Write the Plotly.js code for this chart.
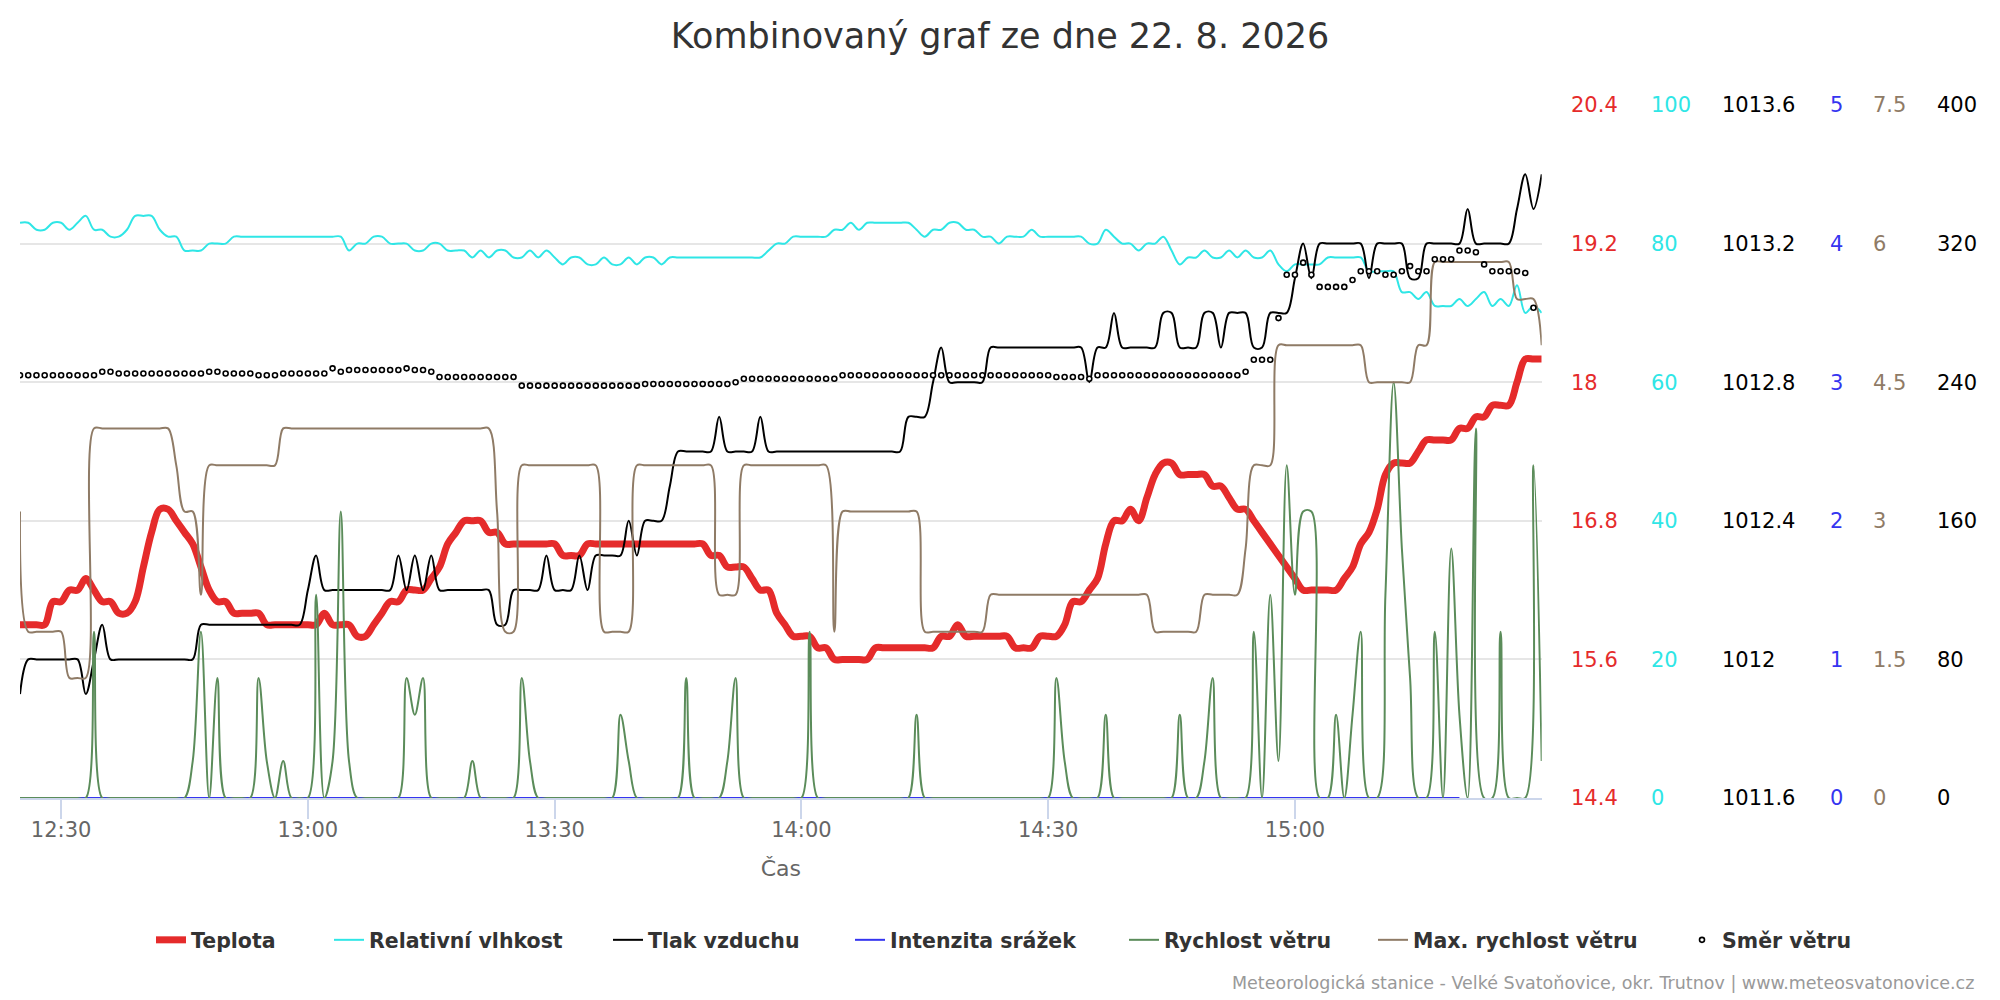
<!DOCTYPE html>
<html>
<head>
<meta charset="utf-8">
<script src="https://cdn.plot.ly/plotly-3.0.1.min.js"></script>
<style>
  html, body { margin: 0; padding: 0; background: #ffffff; }
  #chart { width: 2000px; height: 1000px; }
</style>
</head>
<body>
<div id="chart"></div>
<script>
// ---- Data (one sample per minute, starting 22. 8. 2026 12:25) ----
const dayDate = '2026-08-22';
const startTime = '12:25';

const tickLabels = ['12:30', '13:00', '13:30', '14:00', '14:30', '15:00'];

const temperature = [
  15.9,15.9,15.9,15.9,16.1,16.1,16.2,16.2,16.3,16.2,
  16.1,16.1,16.0,16.0,16.1,16.4,16.7,16.9,16.9,16.8,
  16.7,16.6,16.4,16.2,16.1,16.1,16.0,16.0,16.0,16.0,
  15.9,15.9,15.9,15.9,15.9,15.9,15.9,16.0,15.9,15.9,
  15.9,15.8,15.8,15.9,16.0,16.1,16.1,16.2,16.2,16.2,
  16.3,16.4,16.6,16.7,16.8,16.8,16.8,16.7,16.7,16.6,
  16.6,16.6,16.6,16.6,16.6,16.6,16.5,16.5,16.5,16.6,
  16.6,16.6,16.6,16.6,16.6,16.6,16.6,16.6,16.6,16.6,
  16.6,16.6,16.6,16.6,16.5,16.5,16.4,16.4,16.4,16.3,
  16.2,16.2,16.0,15.9,15.8,15.8,15.8,15.7,15.7,15.6,
  15.6,15.6,15.6,15.6,15.7,15.7,15.7,15.7,15.7,15.7,
  15.7,15.7,15.8,15.8,15.9,15.8,15.8,15.8,15.8,15.8,
  15.8,15.7,15.7,15.7,15.8,15.8,15.8,15.9,16.1,16.1,
  16.2,16.3,16.6,16.8,16.8,16.9,16.8,17.0,17.2,17.3,
  17.3,17.2,17.2,17.2,17.2,17.1,17.1,17.0,16.9,16.9,
  16.8,16.7,16.6,16.5,16.4,16.3,16.2,16.2,16.2,16.2,
  16.2,16.3,16.4,16.6,16.7,16.9,17.2,17.3,17.3,17.3,
  17.4,17.5,17.5,17.5,17.5,17.6,17.6,17.7,17.7,17.8,
  17.8,17.8,18.0,18.2,18.2,18.2
];

const humidity = [
  83,83,82,82,83,83,82,83,84,82,
  82,81,81,82,84,84,84,82,81,81,
  79,79,79,80,80,80,81,81,81,81,
  81,81,81,81,81,81,81,81,81,81,
  79,80,80,81,81,80,80,80,79,79,
  80,80,79,79,79,78,79,78,79,79,
  78,78,79,78,79,78,77,78,78,77,
  77,78,77,77,78,77,78,78,77,78,
  78,78,78,78,78,78,78,78,78,78,
  78,79,80,80,81,81,81,81,81,82,
  82,83,82,83,83,83,83,83,83,82,
  81,82,82,83,83,82,82,81,81,80,
  81,81,81,82,81,81,81,81,81,81,
  80,80,82,81,80,80,79,80,80,81,
  79,77,78,78,79,78,78,79,78,79,
  78,78,79,77,76,77,77,77,77,78,
  78,78,78,78,76,76,76,76,73,73,
  72,73,71,71,71,72,71,72,73,71,
  72,71,74,70,71,70
];

const pressure = [
  1011.9,1012.0,1012.0,1012.0,1012.0,1012.0,1012.0,1012.0,1011.9,1012.0,
  1012.1,1012.0,1012.0,1012.0,1012.0,1012.0,1012.0,1012.0,1012.0,1012.0,
  1012.0,1012.0,1012.1,1012.1,1012.1,1012.1,1012.1,1012.1,1012.1,1012.1,
  1012.1,1012.1,1012.1,1012.1,1012.1,1012.2,1012.3,1012.2,1012.2,1012.2,
  1012.2,1012.2,1012.2,1012.2,1012.2,1012.2,1012.3,1012.2,1012.3,1012.2,
  1012.3,1012.2,1012.2,1012.2,1012.2,1012.2,1012.2,1012.2,1012.1,1012.1,
  1012.2,1012.2,1012.2,1012.2,1012.3,1012.2,1012.2,1012.2,1012.3,1012.2,
  1012.3,1012.3,1012.3,1012.3,1012.4,1012.3,1012.4,1012.4,1012.4,1012.5,
  1012.6,1012.6,1012.6,1012.6,1012.6,1012.7,1012.6,1012.6,1012.6,1012.6,
  1012.7,1012.6,1012.6,1012.6,1012.6,1012.6,1012.6,1012.6,1012.6,1012.6,
  1012.6,1012.6,1012.6,1012.6,1012.6,1012.6,1012.6,1012.6,1012.7,1012.7,
  1012.7,1012.8,1012.9,1012.8,1012.8,1012.8,1012.8,1012.8,1012.9,1012.9,
  1012.9,1012.9,1012.9,1012.9,1012.9,1012.9,1012.9,1012.9,1012.9,1012.9,
  1012.8,1012.9,1012.9,1013.0,1012.9,1012.9,1012.9,1012.9,1012.9,1013.0,
  1013.0,1012.9,1012.9,1012.9,1013.0,1013.0,1012.9,1013.0,1013.0,1013.0,
  1012.9,1012.9,1013.0,1013.0,1013.0,1013.1,1013.2,1013.1,1013.2,1013.2,
  1013.2,1013.2,1013.2,1013.2,1013.1,1013.2,1013.2,1013.2,1013.2,1013.1,
  1013.1,1013.2,1013.2,1013.2,1013.2,1013.2,1013.3,1013.2,1013.2,1013.2,
  1013.2,1013.2,1013.3,1013.4,1013.3,1013.4
];

const rainIntensity = [
  0,0,0,0,0,0,0,0,0,0, 0,0,0,0,0,0,0,0,0,0,
  0,0,0,0,0,0,0,0,0,0, 0,0,0,0,0,0,0,0,0,0,
  0,0,0,0,0,0,0,0,0,0, 0,0,0,0,0,0,0,0,0,0,
  0,0,0,0,0,0,0,0,0,0, 0,0,0,0,0,0,0,0,0,0,
  0,0,0,0,0,0,0,0,0,0, 0,0,0,0,0,0,0,0,0,0,
  0,0,0,0,0,0,0,0,0,0, 0,0,0,0,0,0,0,0,0,0,
  0,0,0,0,0,0,0,0,0,0, 0,0,0,0,0,0,0,0,0,0,
  0,0,0,0,0,0,0,0,0,0, 0,0,0,0,0,0,0,0,0,0,
  0,0,0,0,0,0,0,0,0,0, 0,0,0,0,0,0
];

const windSpeed = [
  0,0,0,0,0,0,0,0,0,1.8,
  0,0,0,0,0,0,0,0,0,0,
  0,0.4,1.8,0,1.3,0,0,0,0,1.3,
  0.4,0,0.4,0,0,0,2.2,0,0.4,3.1,
  0.4,0,0,0,0,0,0,1.3,0.9,1.3,
  0,0,0,0,0,0.4,0,0,0,0,
  0,1.3,0.4,0,0,0,0,0,0,0,
  0,0,0,0.9,0.4,0,0,0,0,0,
  0,1.3,0,0,0,0,0.4,1.3,0,0,
  0,0,0,0,0,0,1.8,0,0,0,
  0,0,0,0,0,0,0,0,0,0.9,
  0,0,0,0,0,0,0,0,0,0,
  0,0,0,0,0,0,1.3,0.4,0,0,
  0,0,0.9,0,0,0,0,0,0,0,
  0,0.9,0,0,0.4,1.3,0,0,0,0,
  1.8,0,2.2,0.4,3.6,2.2,3.1,3.1,0,0,
  0.9,0,0.9,1.8,0,0,2.2,4.5,2.7,1.3,
  0,0,1.8,0,2.7,0.9,0,4.0,0,0,
  1.8,0,0,0,3.6,0.4
];

const maxWindSpeed = [
  3.1,1.8,1.8,1.8,1.8,1.8,1.3,1.3,1.3,4.0,
  4.0,4.0,4.0,4.0,4.0,4.0,4.0,4.0,4.0,3.6,
  3.1,3.1,2.2,3.6,3.6,3.6,3.6,3.6,3.6,3.6,
  3.6,3.6,4.0,4.0,4.0,4.0,4.0,4.0,4.0,4.0,
  4.0,4.0,4.0,4.0,4.0,4.0,4.0,4.0,4.0,4.0,
  4.0,4.0,4.0,4.0,4.0,4.0,4.0,4.0,3.1,1.8,
  1.8,3.6,3.6,3.6,3.6,3.6,3.6,3.6,3.6,3.6,
  3.6,1.8,1.8,1.8,1.8,3.6,3.6,3.6,3.6,3.6,
  3.6,3.6,3.6,3.6,3.6,2.2,2.2,2.2,3.6,3.6,
  3.6,3.6,3.6,3.6,3.6,3.6,3.6,3.6,3.6,1.8,
  3.1,3.1,3.1,3.1,3.1,3.1,3.1,3.1,3.1,3.1,
  1.8,1.8,1.8,1.8,1.8,1.8,1.8,1.8,2.2,2.2,
  2.2,2.2,2.2,2.2,2.2,2.2,2.2,2.2,2.2,2.2,
  2.2,2.2,2.2,2.2,2.2,2.2,2.2,2.2,1.8,1.8,
  1.8,1.8,1.8,1.8,2.2,2.2,2.2,2.2,2.2,2.7,
  3.6,3.6,3.6,4.9,4.9,4.9,4.9,4.9,4.9,4.9,
  4.9,4.9,4.9,4.9,4.5,4.5,4.5,4.5,4.5,4.5,
  4.9,4.9,5.8,5.8,5.8,5.8,5.8,5.8,5.8,5.8,
  5.8,5.8,5.4,5.4,5.4,4.9
];

const windDirection = [
  244,244,244,244,244,244,244,244,244,244,
  246,246,245,245,245,245,245,245,245,245,
  245,245,245,246,246,245,245,245,245,244,
  244,244,245,245,245,245,245,245,248,246,
  247,247,247,247,247,247,247,248,247,247,
  246,243,243,243,243,243,243,243,243,243,
  243,238,238,238,238,238,238,238,238,238,
  238,238,238,238,238,238,239,239,239,239,
  239,239,239,239,239,239,239,240,242,242,
  242,242,242,242,242,242,242,242,242,242,
  244,244,244,244,244,244,244,244,244,244,
  244,244,244,244,244,244,244,244,244,244,
  244,244,244,244,244,244,243,243,243,243,
  242,244,244,244,244,244,244,244,244,244,
  244,244,244,244,244,244,244,244,244,246,
  253,253,253,277,302,302,309,302,295,295,
  295,295,299,304,304,304,302,302,304,307,
  304,304,311,311,311,316,316,315,308,304,
  304,304,304,303,283,null
];

// ---- Time axis built from the sample index ----
function pad2(n) { return (n < 10 ? '0' : '') + n; }
const startParts = startTime.split(':').map(Number);
const startMin = startParts[0] * 60 + startParts[1];
const times = temperature.map(function (_, i) {
  const t = startMin + i;
  return dayDate + ' ' + pad2(Math.floor(t / 60)) + ':' + pad2(t % 60);
});
const tickVals = tickLabels.map(function (l) { return dayDate + ' ' + l; });

// ---- Styling ----
const FONT = 'DejaVu Sans, Verdana, sans-serif';
const C_TEMP = '#e52b2b';
const C_HUM = '#2fe6e6';
const C_PRES = '#000000';
const C_RAIN = '#3535f0';
const C_WIND = '#5b8c5a';
const C_MAXW = '#8f7b66';
const C_DIR = '#000000';

const W = 2000, H = 1000;
const M = { l: 20, r: 10, t: 105, b: 202 };
const PW = W - M.l - M.r;
const plotRight = 1541.7;
function px2paper(x) { return (x - M.l) / PW; }
const LABEL_GAP = 3;

function spline(color, width) {
  return { color: color, width: width, shape: 'spline', smoothing: 1 };
}

const traces = [
  { name: 'Teplota', x: times, y: temperature, yaxis: 'y', type: 'scatter', mode: 'lines',
    line: spline(C_TEMP, 7) },
  { name: 'Relativní vlhkost', x: times, y: humidity, yaxis: 'y2', type: 'scatter', mode: 'lines',
    line: spline(C_HUM, 2) },
  { name: 'Tlak vzduchu', x: times, y: pressure, yaxis: 'y3', type: 'scatter', mode: 'lines',
    line: spline(C_PRES, 2) },
  { name: 'Intenzita srážek', x: times, y: rainIntensity, yaxis: 'y4', type: 'scatter', mode: 'lines',
    line: spline(C_RAIN, 2) },
  { name: 'Rychlost větru', x: times, y: windSpeed, yaxis: 'y5', type: 'scatter', mode: 'lines',
    line: spline(C_WIND, 2) },
  { name: 'Max. rychlost větru', x: times, y: maxWindSpeed, yaxis: 'y5', type: 'scatter', mode: 'lines',
    line: spline(C_MAXW, 2) },
  { name: 'Směr větru', x: times, y: windDirection, yaxis: 'y6', type: 'scatter', mode: 'markers',
    marker: { symbol: 'circle', size: 5, color: '#ffffff', line: { color: C_DIR, width: 1.6 } } }
];

function rightAxis(labelX, range, dtick, color, extra) {
  const ax = {
    side: 'right', anchor: 'free', position: px2paper(labelX - LABEL_GAP),
    range: range, tick0: range[0], dtick: dtick, autorange: false,
    showgrid: false, zeroline: false, showline: false, ticks: '',
    tickfont: { family: FONT, size: 21, color: color },
    automargin: false, fixedrange: true
  };
  return Object.assign(ax, extra || {});
}

const layout = {
  width: W, height: H,
  margin: M,
  paper_bgcolor: '#ffffff', plot_bgcolor: '#ffffff',
  font: { family: FONT, color: '#333333' },
  title: {
    text: 'Kombinovaný graf ze dne 22. 8. 2026',
    x: 0.5, xref: 'container', xanchor: 'center',
    y: 1 - 36 / H, yref: 'container', yanchor: 'middle',
    font: { family: FONT, size: 35, color: '#333333' }
  },
  showlegend: true,
  xaxis: {
    type: 'date', domain: [0, px2paper(plotRight)],
    range: [times[0], times[times.length - 1]], autorange: false,
    tickvals: tickVals, ticktext: tickLabels,
    showgrid: false, zeroline: false,
    showline: true, linecolor: '#ccd6eb', linewidth: 2,
    ticks: 'outside', ticklen: 19, tickwidth: 2, tickcolor: '#ccd6eb',
    ticklabelstandoff: -7,
    tickfont: { family: FONT, size: 21, color: '#666666' },
    title: { text: 'Čas', font: { family: FONT, size: 22, color: '#666666' }, standoff: 19 },
    automargin: false, fixedrange: true, layer: 'below traces'
  },
  yaxis: rightAxis(1573, [14.4, 20.4], 1.2, C_TEMP,
    { showgrid: true, gridcolor: '#e6e6e6', gridwidth: 2, layer: 'below traces' }),
  yaxis2: rightAxis(1653, [0, 100], 20, C_HUM, { overlaying: 'y' }),
  yaxis3: rightAxis(1724, [1011.6, 1013.6], 0.4, '#000000', { overlaying: 'y', tickformat: '.1~f' }),
  yaxis4: rightAxis(1832, [0, 5], 1, C_RAIN, { overlaying: 'y' }),
  yaxis5: rightAxis(1875, [0, 7.5], 1.5, C_MAXW, { overlaying: 'y' }),
  yaxis6: rightAxis(1939, [0, 400], 80, '#000000', { overlaying: 'y' }),
  annotations: [{
    text: 'Meteorologická stanice - Velké Svatoňovice, okr. Trutnov | www.meteosvatonovice.cz',
    xref: 'paper', yref: 'paper',
    x: px2paper(1976), y: -(983 - (H - M.b)) / (H - M.t - M.b),
    xanchor: 'right', yanchor: 'middle', showarrow: false,
    font: { family: FONT, size: 17.5, color: '#999999' }
  }]
};

// One legend box per series, so each entry sits where the reference puts it
const legendTextStart = [191, 369, 648, 890, 1164, 1413, 1722];
traces.forEach(function (t, i) {
  const key = i === 0 ? 'legend' : 'legend' + (i + 1);
  t.legend = key;
  layout[key] = {
    orientation: 'h', x: (legendTextStart[i] - 40) / W, xref: 'container', xanchor: 'left',
    y: 1 - 940 / H, yref: 'container', yanchor: 'middle',
    font: { family: FONT, size: 20.5, color: '#333333', weight: 'bold' },
    bgcolor: 'rgba(0,0,0,0)', borderwidth: 0, itemwidth: 30
  };
});

Plotly.newPlot('chart', traces, layout, { displayModeBar: false, staticPlot: true });
</script>
</body>
</html>
